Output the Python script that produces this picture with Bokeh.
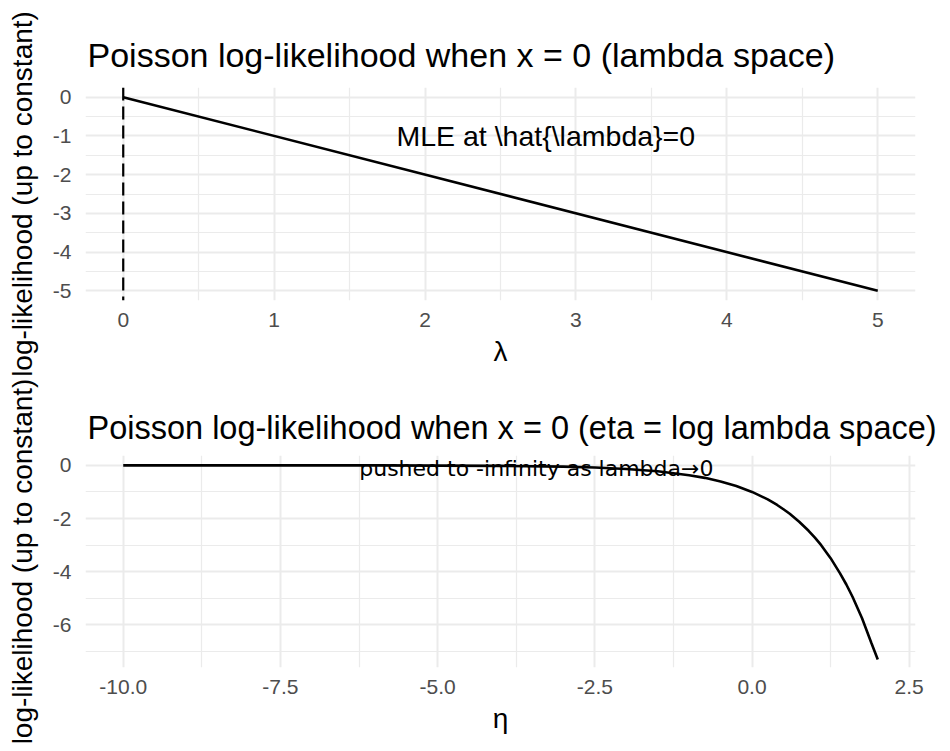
from bokeh.plotting import figure
from bokeh.layouts import column
from bokeh.models import FixedTicker, PrintfTickFormatter, Span, Range1d, ColumnDataSource
from bokeh.core.properties import value
from bokeh.embed import file_html
from bokeh.resources import INLINE

FONT = "Liberation Sans"

# ---- data ----
lam = [0, 5]
ll_lam = [0, -5]
mle_at = [0]

eta = [-10, -9, -8, -7, -6, -5, -4, -3, -2.5, -2, -1.5, -1, -0.75, -0.5, -0.25,
       0, 0.1, 0.25, 0.4, 0.5, 0.6, 0.75, 0.9, 1, 1.1, 1.25, 1.4, 1.5, 1.6, 1.75, 1.9, 2]
ll_eta = [-0.00, -0.00, -0.00, -0.00, -0.00, -0.01, -0.02, -0.05, -0.08, -0.14, -0.22, -0.37, -0.47, -0.61, -0.78,
          -1.00, -1.11, -1.28, -1.49, -1.65, -1.82, -2.12, -2.46, -2.72, -3.00, -3.49, -4.06, -4.48, -4.95, -5.75, -6.69, -7.30]

top_x_major = [0, 1, 2, 3, 4, 5]
top_x_minor = [0.5, 1.5, 2.5, 3.5, 4.5]
top_y_major = [0, -1, -2, -3, -4, -5]
top_y_minor = [-0.5, -1.5, -2.5, -3.5, -4.5]
bot_x_major = [-10, -7.5, -5, -2.5, 0, 2.5]
bot_x_minor = [-8.75, -6.25, -3.75, -1.25, 1.25]
bot_y_major = [0, -2, -4, -6]
bot_y_minor = [-1, -3, -5, -7]

title_top = "Poisson log-likelihood when x = 0 (lambda space)"
title_bot = "Poisson log-likelihood when x = 0 (eta = log lambda space)"
ylab = "log-likelihood (up to constant)"
xlab_top = "λ"
xlab_bot = "η"

note_top = ["MLE at \\hat{\\lambda}=0"]
note_top_x = [2.8]
note_top_y = [-1.0]
note_bot = ["pushed to -infinity as lambda→0"]
note_bot_x = [-3.43]
note_bot_y = [-0.1]

top_xr = (-0.25, 5.25)
top_yr = (-5.25, 0.25)
bot_xr = (-10.6, 2.6)
bot_yr = (-7.6, 0.37)

GRID = "#EBEBEB"


def style(p, xmaj, xmin, ymaj, ymin, xfmt, yfmt, standoff, tsize):
    p.title.text_font = FONT
    p.title.text_font_size = tsize
    p.title.text_font_style = "normal"
    p.title.text_color = "black"
    p.title.standoff = standoff
    p.title.offset = 2
    p.outline_line_color = None
    p.background_fill_color = "white"
    p.border_fill_color = "white"
    p.xaxis[0].ticker = FixedTicker(ticks=xmaj, minor_ticks=xmin)
    p.yaxis[0].ticker = FixedTicker(ticks=ymaj, minor_ticks=ymin)
    p.xaxis[0].formatter = PrintfTickFormatter(format=xfmt)
    p.yaxis[0].formatter = PrintfTickFormatter(format=yfmt)
    for ax in (p.xaxis[0], p.yaxis[0]):
        ax.axis_line_color = None
        ax.major_tick_line_color = None
        ax.minor_tick_line_color = None
        ax.major_tick_out = 0
        ax.major_tick_in = 0
        ax.minor_tick_out = 0
        ax.major_label_text_font = FONT
        ax.major_label_text_font_size = "21px"
        ax.major_label_text_color = "#4D4D4D"
        ax.axis_label_text_font = FONT
        ax.axis_label_text_font_size = "28px"
        ax.axis_label_text_font_style = "normal"
        ax.axis_label_text_color = "black"
    p.xaxis[0].major_label_standoff = 12
    p.xaxis[0].axis_label_standoff = 6
    p.yaxis[0].major_label_standoff = 14
    p.yaxis[0].axis_label_standoff = 12
    for g in (p.xgrid[0], p.ygrid[0]):
        g.grid_line_color = GRID
        g.grid_line_width = 2
        g.minor_grid_line_color = GRID
        g.minor_grid_line_width = 1.2


p1 = figure(frame_width=830, frame_height=213, min_border_left=85, min_border_right=27,
            min_border_top=87, min_border_bottom=80,
            x_range=Range1d(*top_xr), y_range=Range1d(*top_yr),
            title=title_top, x_axis_label=xlab_top, y_axis_label=ylab,
            output_backend="svg", toolbar_location=None)
style(p1, top_x_major, top_x_minor, top_y_major, top_y_minor, "%d", "%d", 27, "34px")
p1.add_layout(Span(location=mle_at[0], dimension="height", line_color="black",
                   line_dash="13 6", line_width=2.2))
p1.line(lam, ll_lam, line_color="black", line_width=2.6)
p1.text(x="x", y="y", text="t", source=ColumnDataSource(dict(x=note_top_x, y=note_top_y, t=note_top)),
        text_font=value(FONT), text_font_size="28.5px", text_align="center",
        text_baseline="middle", text_color="black")

p2 = figure(frame_width=830, frame_height=212, min_border_left=85, min_border_right=27,
            min_border_top=75, min_border_bottom=76,
            x_range=Range1d(*bot_xr), y_range=Range1d(*bot_yr),
            title=title_bot, x_axis_label=xlab_bot, y_axis_label=ylab,
            output_backend="svg", toolbar_location=None)
style(p2, bot_x_major, bot_x_minor, bot_y_major, bot_y_minor, "%.1f", "%d", 19, "32.5px")
p2.line(eta, ll_eta, line_color="black", line_width=2.6)
p2.text(x="x", y="y", text="t", source=ColumnDataSource(dict(x=note_bot_x, y=note_bot_y, t=note_bot)),
        text_font=value("DejaVu Sans"), text_font_size="22px", text_align="center",
        text_baseline="middle", text_color="black")

layout = column(p1, p2, spacing=0)
open("out.html", "w").write(file_html(layout, INLINE))
